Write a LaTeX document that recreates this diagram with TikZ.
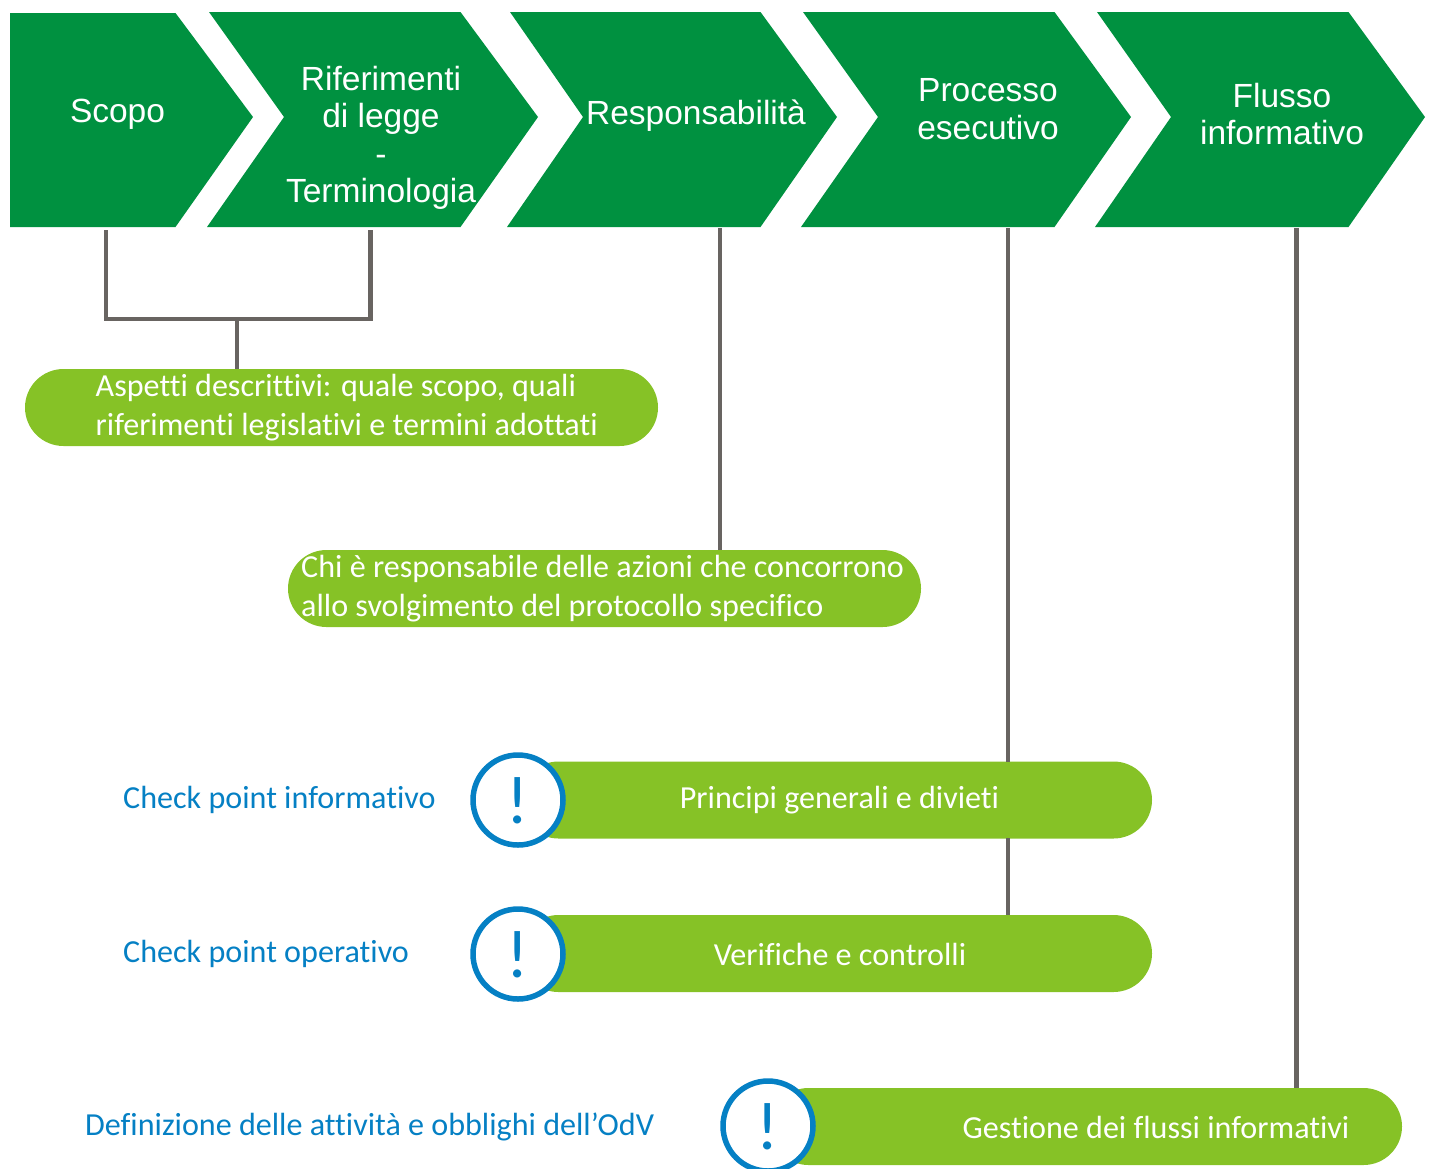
\documentclass[tikz,border=0pt]{standalone}
\usepackage{fontspec}
\setmainfont[Ligatures=NoCommon]{Carlito}
\newfontfamily\arialfont{Liberation Sans}
\usetikzlibrary{shapes.misc}
\definecolor{chevgreen}{HTML}{009140}
\definecolor{pillgreen}{HTML}{86C226}
\definecolor{linkgray}{HTML}{686461}
\definecolor{markblue}{HTML}{0580C4}
\tikzset{
  chevlabel/.style={text=white,align=center,inner sep=0pt,font=\arialfont\fontsize{33.5}{37.5}\selectfont},
  pill/.style={rounded rectangle,fill=pillgreen,inner sep=0pt,minimum height=77pt},
  pilltext/.style={text=white,inner sep=0pt,font=\fontsize{32.1}{39}\selectfont},
  pillleft/.style={pilltext,align=left,anchor=west},
  sidetext/.style={text=markblue,inner sep=0pt,anchor=west,font=\fontsize{32.1}{39}\selectfont},
  markring/.style={circle,draw=markblue,line width=5.5pt,fill=white,minimum size=90pt,inner sep=0pt},
  markglyph/.style={text=markblue,inner sep=0pt,font=\fontsize{68}{68}\selectfont},
  link/.style={draw=linkgray,line width=4.6pt}
}
\begin{document}
\begin{tikzpicture}[x=1pt,y=-1pt]
\clip (0,0) rectangle (1431,1168);
% chevrons
\fill[chevgreen] (10,13) -- (175.5,13) -- (253,117) -- (175.5,227) -- (10,227) -- cycle;
\fill[chevgreen] (209,12) -- (460.5,12) -- (538,117) -- (460.5,227) -- (207,227) -- (284,117) -- cycle;
\fill[chevgreen] (510,12) -- (760.5,12) -- (837,117) -- (760.5,227) -- (507,227) -- (583,117) -- cycle;
\fill[chevgreen] (803,12) -- (1054.5,12) -- (1131,117) -- (1054.5,227) -- (801,227) -- (878,117) -- cycle;
\fill[chevgreen] (1097,12) -- (1348.5,12) -- (1425,117) -- (1348.5,227) -- (1095,227) -- (1171,117) -- cycle;
\node[chevlabel] (t1) at (117.5,114) {Scopo};
\node[chevlabel] (t2) at (381,138) {Riferimenti\\di legge\\-\\Terminologia};
\node[chevlabel] (t3) at (696,116) {Responsabilità};
\node[chevlabel] (t4) at (988,109) {Processo\\esecutivo};
\node[chevlabel] (t5) at (1282,114) {Flusso\\informativo};
% connector start points on the chevrons
\coordinate (c1) at (106,230);
\coordinate (c2) at (370.5,230);
\coordinate (c3) at (720,228);
\coordinate (c4) at (1008,228);
\coordinate (c5) at (1296.5,228);
\coordinate (join) at (237,319);
% pills
\node[pill,minimum width=633pt] (p1) at (341.5,407.5) {};
\node[pill,minimum width=633pt] (p2) at (604.5,588.5) {};
\node[pill,minimum width=632pt] (p3) at (836,800) {};
\node[pill,minimum width=632pt] (p4) at (836,953.5) {};
\node[pill,minimum width=632pt] (p5) at (1086,1126.5) {};
% connectors
\draw[link] (c1) |- (c2 |- join) -- (c2);
\draw[link] (join) -- (join |- p1.north);
\draw[link] (c3) -- (c3 |- p2.north);
\draw[link,shorten >=-0.5pt] (c4) -- (c4 |- p3.north);
\draw[link,shorten <=-0.5pt,shorten >=-0.5pt] (c4 |- p3.south) -- (c4 |- p4.north);
\draw[link,shorten >=-0.5pt] (c5) -- (c5 |- p5.north);
% pill labels
\node[pillleft] (l1) at (95.5,408) {Aspetti descrittivi: quale scopo, quali\\riferimenti legislativi e termini adottati};
\node[pillleft] (l2) at (301,589) {Chi è responsabile delle azioni che concorrono\\allo svolgimento del protocollo specifico};
\node[pilltext] (l3) at (839.5,800) {Principi generali e divieti};
\node[pilltext] (l4) at (840,954) {Verifiche e controlli};
\node[pilltext] (l5) at (1156,1127) {Gestione dei flussi informativi};
% marks
\node[markring] (m1) at (518,800) {};
\node[markring] (m2) at (518,954) {};
\node[markring] (m3) at (768,1126) {};
\node[markglyph] (g1) at (518,801) {!};
\node[markglyph] (g2) at (518,955) {!};
\node[markglyph] (g3) at (768,1127) {!};
% side labels
\node[sidetext] (s1) at (123,800) {Check point informativo};
\node[sidetext] (s2) at (123,954) {Check point operativo};
\node[sidetext] (s3) at (85,1127) {Definizione delle attività e obblighi dell’OdV};
\end{tikzpicture}
\end{document}
